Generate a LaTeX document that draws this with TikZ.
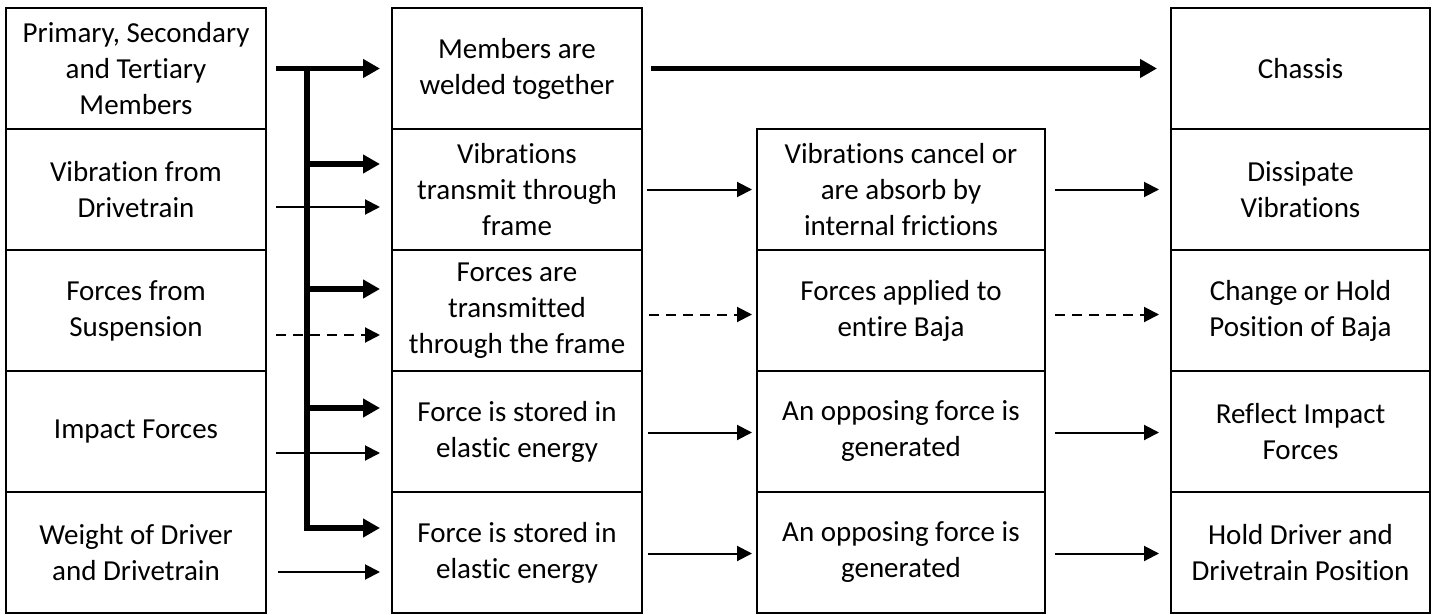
\documentclass[tikz,border=0pt]{standalone}
\usepackage{fontspec}
\setmainfont{Carlito}[Ligatures={NoCommon}]
\usetikzlibrary{arrows.meta,calc}
\begin{document}
\begin{tikzpicture}[x=1pt,y=-1pt,
  box/.style={draw, line width=2pt, rectangle, inner sep=0pt, align=center,
    font=\fontsize{29}{36}\selectfont, minimum height=121pt},
  thinarrow/.style={line width=2pt, -{Triangle[length=15pt,width=15pt]}},
  dasharrow/.style={line width=2pt, dash pattern=on 10pt off 7pt, -{Triangle[length=15pt,width=15pt]}},
  thickarrow/.style={line width=5.5pt, line join=miter, -{Triangle[length=17pt,width=18pt]}}
]
\useasboundingbox (0,0) rectangle (1437,615);
% column 1
\node[box, minimum width=260pt] (c1r1) at (136,68.5) {Primary, Secondary\\and Tertiary\\Members};
\node[box, minimum width=260pt] (c1r2) at (136,189.5) {Vibration from\\Drivetrain};
\node[box, minimum width=260pt] (c1r3) at (136,310.5) {Forces from\\Suspension};
\node[box, minimum width=260pt] (c1r4) at (136,431.5) {Impact Forces};
\node[box, minimum width=260pt] (c1r5) at (136,552.5) {Weight of Driver\\and Drivetrain};
% column 2
\node[box, minimum width=250pt] (c2r1) at (517,68.5) {Members are\\welded together};
\node[box, minimum width=250pt] (c2r2) at (517,189.5) {Vibrations\\transmit through\\frame};
\node[box, minimum width=250pt] (c2r3) at (517,310.5) {Forces are\\transmitted\\through the frame};
\node[box, minimum width=250pt] (c2r4) at (517,431.5) {Force is stored in\\elastic energy};
\node[box, minimum width=250pt] (c2r5) at (517,552.5) {Force is stored in\\elastic energy};
% column 3
\node[box, minimum width=288pt] (c3r2) at (901,189.5) {Vibrations cancel or\\are absorb by\\internal frictions};
\node[box, minimum width=288pt] (c3r3) at (901,310.5) {Forces applied to\\entire Baja};
\node[box, minimum width=288pt] (c3r4) at (901,431.5) {An opposing force is\\generated};
\node[box, minimum width=288pt] (c3r5) at (901,552.5) {An opposing force is\\generated};
% column 4
\node[box, minimum width=259pt] (c4r1) at (1300.5,68.5) {Chassis};
\node[box, minimum width=259pt] (c4r2) at (1300.5,189.5) {Dissipate\\Vibrations};
\node[box, minimum width=259pt] (c4r3) at (1300.5,310.5) {Change or Hold\\Position of Baja};
\node[box, minimum width=259pt] (c4r4) at (1300.5,431.5) {Reflect Impact\\Forces};
\node[box, minimum width=259pt] (c4r5) at (1300.5,552.5) {Hold Driver and\\Drivetrain Position};

% bus structure
\coordinate (bt) at ($(c1r1.east)+(40,0)$);
\coordinate (e2) at ($(c2r2.north west)+(-11,36)$);
\coordinate (e3) at ($(c2r3.north west)+(-11,40)$);
\coordinate (e4) at ($(c2r4.north west)+(-11,38)$);
\coordinate (e5) at ($(c2r5.north west)+(-11,37)$);
\draw[thickarrow] ($(c1r1.east)+(9,0)$) -- ($(c2r1.west)+(-11,0)$);
\draw[thickarrow] (bt) -- (bt |- e5) -- (e5);
\draw[thickarrow] (bt |- e2) -- (e2);
\draw[thickarrow] (bt |- e3) -- (e3);
\draw[thickarrow] (bt |- e4) -- (e4);

% direct inputs
\draw[thinarrow] ($(c1r2.north east)+(9,79)$) -- ($(c2r2.north west)+(-11,79)$);
\draw[dasharrow] ($(c1r3.north east)+(9,86)$) -- ($(c2r3.north west)+(-11,86)$);
\draw[thinarrow] ($(c1r4.north east)+(9,83)$) -- ($(c2r4.north west)+(-11,83)$);
\draw[thinarrow] ($(c1r5.north east)+(11,81)$) -- ($(c2r5.north west)+(-11,81)$);

% column 2 -> column 3/4
\draw[thickarrow] ($(c2r1.east)+(8,0)$) -- ($(c4r1.west)+(-13,0)$);
\draw[thinarrow] ($(c2r2.east)+(4,0)$) -- ($(c3r2.west)+(-4,0)$);
\draw[dasharrow] ($(c2r3.east)+(6,4)$) -- ($(c3r3.west)+(-4,4)$);
\draw[thinarrow] ($(c2r4.east)+(5,1)$) -- ($(c3r4.west)+(-4,1)$);
\draw[thinarrow] ($(c2r5.east)+(5,1)$) -- ($(c3r5.west)+(-4,1)$);

% column 3 -> column 4
\draw[thinarrow] ($(c3r2.east)+(9,0)$) -- ($(c4r2.west)+(-11,0)$);
\draw[dasharrow] ($(c3r3.east)+(9,4)$) -- ($(c4r3.west)+(-11,4)$);
\draw[thinarrow] ($(c3r4.east)+(9,1)$) -- ($(c4r4.west)+(-11,1)$);
\draw[thinarrow] ($(c3r5.east)+(9,1)$) -- ($(c4r5.west)+(-11,1)$);
\end{tikzpicture}
\end{document}
